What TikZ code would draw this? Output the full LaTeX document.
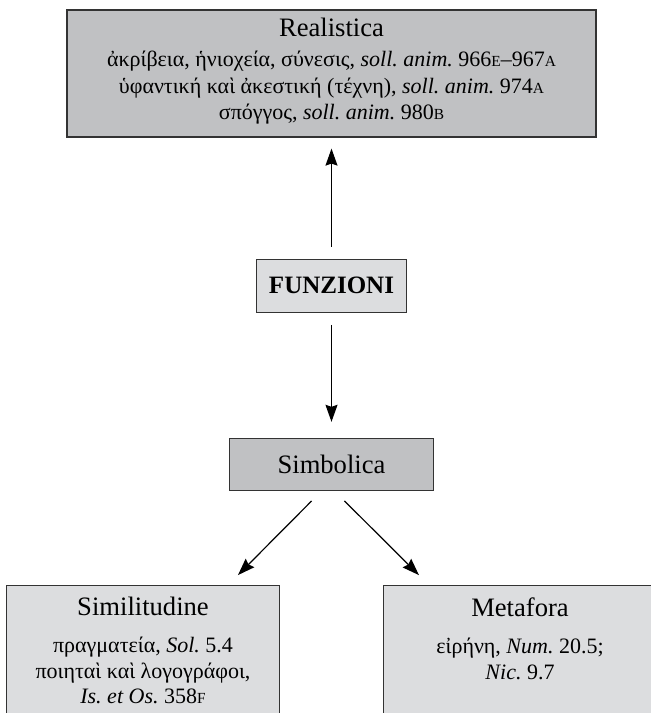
\documentclass[tikz,border=0pt]{standalone}
\usepackage{fontspec}
\setmainfont{Liberation Serif}
\usetikzlibrary{arrows.meta, positioning}
\definecolor{boxdark}{RGB}{192,193,195}
\definecolor{boxlight}{RGB}{220,221,223}
\newcommand{\scap}[1]{{\fontsize{7.7}{7.7}\selectfont #1}}
\newcommand{\boxtitle}[1]{{\fontsize{13.3}{13}\selectfont #1}}
\frenchspacing

\begin{document}
\begin{tikzpicture}[
  box/.style={draw=black!80, line width=0.6pt, align=center, inner sep=0pt},
  darkbox/.style={box, fill=boxdark},
  lightbox/.style={box, fill=boxlight},
  boxtext/.style={align=center, inner sep=0pt, font={\fontsize{11}{13}\selectfont}},
  arrow/.style={-{Stealth[length=8.5pt, width=6pt, inset=1pt]}, line width=0.6pt}
]
\useasboundingbox (0,0) rectangle (325pt,-356.5pt);

\node[darkbox, minimum width=264.5pt, minimum height=63.5pt] (real) at (165.75pt,-36.75pt) {};
\node[boxtext, below=4pt of real.north] (realtext)
  {\boxtitle{Realistica}\\[2pt]
   ἀκρίβεια, ἡνιοχεία, σύνεσις, \textit{soll. anim.} 966\scap{E}–967\scap{A}\\[0.5pt]
   ὑφαντική καὶ ἀκεστική (τέχνη), \textit{soll. anim.} 974\scap{A}\\
   σπόγγος, \textit{soll. anim.} 980\scap{B}};
\node[lightbox, minimum width=75pt, minimum height=26.5pt, below=60.5pt of real] (funz)
  {\fontsize{12.5}{14}\selectfont\bfseries FUNZIONI};
\node[darkbox, minimum width=102pt, minimum height=26pt, below=62.5pt of funz] (simb)
  {\boxtitle{Simbolica}};

\node[lightbox, minimum width=136.5pt, minimum height=100pt, anchor=north] (simil)
  at ([xshift=-94.25pt, yshift=-47pt]simb.south) {};
\node[lightbox, minimum width=136.5pt, minimum height=100pt, anchor=north] (metaf)
  at ([xshift=94.25pt, yshift=-47pt]simb.south) {};
\node[boxtext, below=6pt of simil.north] (similtext)
  {\boxtitle{Similitudine}\\[5.5pt]
   πραγματεία, \textit{Sol.} 5.4\\
   ποιηταὶ καὶ λογογράφοι,\\[-0.5pt]
   \textit{Is. et Os.} 358\scap{F}};
\node[boxtext, below=6pt of metaf.north] (metaftext)
  {\boxtitle{Metafora}\\[5.5pt]
   εἰρήνη, \textit{Num.} 20.5;\\
   \textit{Nic.} 9.7};

\draw[arrow, shorten <=6pt, shorten >=5.5pt] (funz.north) -- (funz.north |- real.south);
\draw[arrow, shorten <=6pt, shorten >=8pt] (funz.south) -- (funz.south |- simb.north);
\draw[arrow, shorten <=7pt, shorten >=7pt] ([xshift=-5pt]simb.south) -- ([xshift=-26pt]simil.north east);
\draw[arrow, shorten <=7pt, shorten >=7pt] ([xshift=1.5pt]simb.south) -- ([xshift=23pt]metaf.north west);

\end{tikzpicture}
\end{document}
